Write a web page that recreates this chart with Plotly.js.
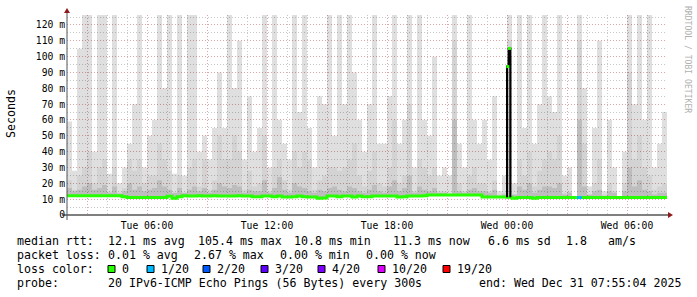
<!DOCTYPE html>
<html><head><meta charset="utf-8">
<script src="https://cdn.plot.ly/plotly-3.0.1.min.js"></script>
<style>html,body{margin:0;padding:0;background:#fff}#chart{width:697px;height:297px}</style>
</head><body><div id="chart"></div>
<script>
// ---- data ----
const startTime = '2025-12-30T02:00:00Z';
const endTime = '2025-12-31T08:00:00Z';
const stepMinutes = 15;

// highest ping of each step (ms)
const maxMs = [
  59, 28, 105, 130, 130, 40, 130, 130, 26, 130, 20, 30, 45, 70, 130, 30, 50, 60, 130, 80, 130, 26, 130, 25,
  130, 130, 40, 50, 35, 55, 90, 55, 130, 80, 110, 35, 75, 40, 55, 130, 30, 130, 60, 45, 35, 130, 65, 130,
  55, 30, 75, 70, 130, 50, 130, 70, 130, 90, 60, 40, 70, 130, 45, 45, 75, 130, 45, 60, 130, 30, 130, 60,
  50, 100, 25, 30, 25, 130, 45, 30, 130, 60, 45, 60, 35, 75, 15, 25, 130, 20, 130, 55, 130, 45, 70, 130,
  75, 65, 130, 25, 30, 12, 130, 80, 18, 55, 110, 15, 60, 30, 12, 40, 130, 70, 130, 60, 130, 30, 45, 65
];
// upper-middle pings (ms)
const midMs = [
  22, 16, 25, 30, 40, 20, 30, 35, 15, 30, 13, 17, 35, 28, 35, 20, 25, 25, 45, 35, 28, 14, 25, 14,
  30, 35, 18, 35, 16, 22, 50, 35, 35, 50, 40, 16, 28, 18, 20, 50, 15, 30, 35, 22, 16, 40, 30, 40,
  35, 16, 22, 25, 30, 30, 28, 30, 35, 45, 25, 18, 28, 40, 20, 18, 30, 60, 20, 25, 70, 15, 35, 30,
  25, 30, 15, 15, 13, 110, 20, 15, 25, 30, 20, 20, 15, 22, 13, 14, 110, 13, 35, 25, 40, 18, 28, 35,
  40, 35, 50, 14, 15, 12, 110, 45, 13, 20, 35, 13, 20, 15, 12, 20, 90, 35, 50, 30, 25, 16, 18, 20
];
// pings close to the median (ms)
const lowMs = [
  17, 15, 16, 18, 20, 16, 17, 19, 14, 18, 14, 15, 20, 16, 18, 15, 16, 17, 22, 18, 16, 14, 17, 14,
  16, 18, 15, 17, 14, 16, 20, 18, 17, 19, 18, 14, 16, 15, 15, 22, 14, 17, 24, 16, 14, 20, 18, 17,
  15, 14, 16, 15, 17, 18, 16, 15, 18, 17, 15, 14, 16, 19, 15, 14, 18, 22, 15, 17, 25, 14, 18, 16,
  15, 17, 14, 14, 13, 60, 15, 14, 16, 17, 15, 15, 14, 16, 12, 13, 100, 13, 18, 16, 20, 14, 16, 18,
  18, 17, 20, 13, 14, 12, 60, 18, 13, 15, 16, 12, 15, 14, 12, 15, 30, 18, 22, 16, 15, 13, 14, 14
];
// median rtt (ms)
const medMs = [
  12.2, 12.2, 12.2, 12.2, 12.2, 12.2, 12.2, 12.2, 12.2, 12.2, 12.2, 11.6, 11.0, 11.0, 11.0, 11.0, 11.0, 11.0, 11.0, 11.0, 11.8, 10.6, 11.6, 12.1,
  12.0, 12.0, 12.1, 12.0, 12.0, 12.1, 12.0, 12.0, 12.0, 12.0, 12.1, 12.0, 12.0, 11.5, 11.6, 12.0, 12.0, 11.5, 12.0, 11.4, 11.4, 11.6, 12.0, 11.6,
  11.4, 11.4, 10.6, 10.7, 12.0, 12.0, 11.5, 12.0, 12.0, 11.4, 12.0, 11.5, 11.5, 12.0, 12.0, 12.0, 12.0, 12.0, 11.4, 11.5, 12.0, 12.0, 12.0, 12.1,
  12.6, 12.6, 12.6, 12.6, 12.6, 12.6, 12.6, 12.6, 12.6, 12.6, 12.6, 11.3, 11.3, 11.3, 11.3, 11.3, 11.2, 10.6, 11.0, 11.0, 11.1, 10.5, 11.0, 11.0,
  11.0, 11.1, 11.0, 11.0, 11.0, 11.1, 11.0, 11.0, 11.0, 11.1, 11.0, 11.0, 11.0, 11.0, 11.0, 11.1, 11.0, 11.0, 11.0, 11.0, 11.1, 11.0, 11.0, 11.1
];
// steps with packet loss (index into the series, lost pings of 20)
const lossIdx = [102];
const lossVal = [1];
// the short median spike just after midnight
const spikeTimes = ['2025-12-31T00:00:00Z', '2025-12-31T00:05:00Z', '2025-12-31T00:10:00Z'];
const spikeMs = [93.7, 105.2];

const yTickVals = [0, 10, 20, 30, 40, 50, 60, 70, 80, 90, 100, 110, 120];
const yTickText = ['0', '10 m', '20 m', '30 m', '40 m', '50 m', '60 m', '70 m', '80 m', '90 m', '100 m', '110 m', '120 m'];
const xTickTimes = ['2025-12-30T06:00:00Z', '2025-12-30T12:00:00Z', '2025-12-30T18:00:00Z', '2025-12-31T00:00:00Z', '2025-12-31T06:00:00Z'];
const xTickText = ['Tue 06:00', 'Tue 12:00', 'Tue 18:00', 'Wed 00:00', 'Wed 06:00'];

const lossColors = ['#26ff00', '#00b8ff', '#0059ff', '#5e00ff', '#7e00ff', '#dd00ff', '#ff0000'];
const lossLabels = ['0', '1/20', '2/20', '3/20', '4/20', '10/20', '19/20'];

const legendRows = [
  {label: 'median rtt:', items: [['12.1 ms avg', 107], ['105.4 ms max', 197], ['10.8 ms min', 293], ['11.3 ms now', 392], ['6.6 ms sd', 487], ['1.8', 565], ['am/s', 607]]},
  {label: 'packet loss:', items: [['0.01 % avg', 107], ['2.67 % max', 193], ['0.00 % min', 279], ['0.00 % now', 365]]},
  {label: 'loss color:', items: []},
  {label: 'probe:', items: [['20 IPv6-ICMP Echo Pings (56 Bytes) every 300s', 107], ['end: Wed Dec 31 07:55:04 2025', 478]]}
];
const lossBoxX = [108, 147, 203, 261, 318, 378, 443];

// ---- geometry helpers (pixel -> paper) ----
const L = 67, R = 667, T = 15, B = 215;
const px = x => (x - L) / (R - L);
const py = y => (B - y) / (B - T);

const t0 = Date.parse(startTime);
const stepMs = stepMinutes * 60000;
const times = maxMs.map((_, i) => t0 + i * stepMs);
const tx = times.concat([t0 + maxMs.length * stepMs]);
const ext = arr => arr.concat([arr[arr.length - 1]]);

const mono = 'DejaVu Sans Mono';
const traces = [];
function band(top, color) {
  traces.push({x: tx, y: ext(medMs), mode: 'lines', line: {width: 0, shape: 'hv'}, hoverinfo: 'skip', showlegend: false});
  traces.push({x: tx, y: ext(top), mode: 'lines', line: {width: 0, shape: 'hv'}, fill: 'tonexty', fillcolor: color, hoverinfo: 'skip', showlegend: false});
}
band(maxMs, 'rgba(0,0,0,0.125)');
band(midMs, 'rgba(0,0,0,0.05)');
band(lowMs, 'rgba(0,0,0,0.10)');

// median line
traces.push({x: tx, y: ext(medMs), mode: 'lines', line: {width: 3, color: lossColors[0], shape: 'hv'}, showlegend: false});
// loss-coloured segments
lossIdx.forEach((idx, k) => {
  traces.push({x: [tx[idx], tx[idx + 1]], y: [medMs[idx], medMs[idx]], mode: 'lines', line: {width: 3, color: lossColors[lossVal[k]]}, showlegend: false});
});
// spike
const sT = spikeTimes.map(s => Date.parse(s));
const spikeIdx = Math.floor((sT[0] - t0) / stepMs);
traces.push({x: [sT[0], sT[0], sT[1], sT[2]], y: [medMs[spikeIdx], spikeMs[0], spikeMs[1], medMs[spikeIdx]], mode: 'lines', line: {width: 2, color: '#000', shape: 'hv'}, showlegend: false});
traces.push({x: [(sT[0] + sT[1]) / 2, (sT[1] + sT[2]) / 2], y: spikeMs, mode: 'markers', marker: {symbol: 'square', size: 3, color: lossColors[0]}, showlegend: false});

// x ticks: red grid every 3 h, labels every 6 h
const xTickMs = xTickTimes.map(s => Date.parse(s));
const tEnd = Date.parse(endTime);
const xvals = [], xtext = [];
for (let t = t0 + 3600000; t < tEnd; t += 3600000) {
  const h = new Date(t).getUTCHours();
  if (h % 3 === 0) {
    xvals.push(t);
    const k = xTickMs.indexOf(t);
    xtext.push(k >= 0 ? xTickText[k] : '');
  }
}

const annotations = [];
const rowY = [240.7, 255, 269, 283.3];
legendRows.forEach((row, r) => {
  annotations.push({xref: 'paper', yref: 'paper', x: px(15), y: py(rowY[r]), xanchor: 'left', yanchor: 'middle', text: row.label, showarrow: false, font: {family: mono, size: 11.6, color: '#000'}});
  row.items.forEach(([txt, x]) => {
    annotations.push({xref: 'paper', yref: 'paper', x: px(x - 1), y: py(rowY[r]), xanchor: 'left', yanchor: 'middle', text: txt, showarrow: false, font: {family: mono, size: 11.6, color: '#000'}});
  });
});
const shapes = [];
lossLabels.forEach((lab, k) => {
  const bx = lossBoxX[k];
  shapes.push({type: 'rect', xref: 'paper', yref: 'paper', x0: px(bx), x1: px(bx + 7), y0: py(265.5), y1: py(272.5), fillcolor: lossColors[k], line: {color: '#000', width: 1}});
  annotations.push({xref: 'paper', yref: 'paper', x: px(bx + 12), y: py(rowY[2]), xanchor: 'left', yanchor: 'middle', text: lab, showarrow: false, font: {family: mono, size: 11.6, color: '#000'}});
});
annotations.push({xref: 'paper', yref: 'paper', x: px(11), y: py(114), xanchor: 'center', yanchor: 'middle', text: 'Seconds', textangle: -90, showarrow: false, font: {family: mono, size: 11.6, color: '#000'}});
annotations.push({xref: 'paper', yref: 'paper', x: px(688), y: py(59), xanchor: 'center', yanchor: 'middle', text: 'RRDTOOL / TOBI OETIKER', textangle: 90, showarrow: false, font: {family: mono, size: 8.1, color: '#b0b0b0'}});

// axes with arrows
shapes.push({type: 'line', xref: 'paper', yref: 'paper', x0: px(62), x1: px(669), y0: 0, y1: 0, line: {color: '#000', width: 1}});
shapes.push({type: 'line', xref: 'paper', yref: 'paper', x0: 0, x1: 0, y0: py(220), y1: py(13), line: {color: '#555', width: 1}});
shapes.push({type: 'path', xref: 'paper', yref: 'paper', path: `M ${px(668)} ${py(212)} L ${px(673)} ${py(215)} L ${px(668)} ${py(218)} Z`, fillcolor: '#8f1a1a', line: {width: 0}});
shapes.push({type: 'path', xref: 'paper', yref: 'paper', path: `M ${px(64)} ${py(13)} L ${px(67)} ${py(8)} L ${px(70)} ${py(13)} Z`, fillcolor: '#8f1a1a', line: {width: 0}});

const layout = {
  width: 697, height: 297,
  margin: {l: L, r: 697 - R, t: T, b: 297 - B},
  paper_bgcolor: '#fff', plot_bgcolor: '#fff',
  showlegend: false,
  xaxis: {
    type: 'date', range: [t0, tEnd], tickmode: 'array', tickvals: xvals, ticktext: xtext,
    showgrid: true, gridcolor: '#dba6a6', griddash: '1px,2px', gridwidth: 1,
    minor: {dtick: 3600000, tick0: t0, showgrid: true, gridcolor: '#c8c8c8', griddash: '1px,2px', gridwidth: 1},
    zeroline: false, showline: false, ticks: '', ticklabelstandoff: 3, tickfont: {family: mono, size: 9.7, color: '#000'}, fixedrange: true
  },
  yaxis: {
    range: [0, 126.3], tickmode: 'array', tickvals: yTickVals, ticktext: yTickText,
    showgrid: true, gridcolor: '#dba6a6', griddash: '1px,2px', gridwidth: 1,
    minor: {dtick: 5, tick0: 0, showgrid: true, gridcolor: '#c8c8c8', griddash: '1px,2px', gridwidth: 1},
    zeroline: false, showline: false, ticks: '', ticklabelstandoff: 1, tickfont: {family: mono, size: 9.7, color: '#000'}, fixedrange: true
  },
  annotations: annotations,
  shapes: shapes
};
Plotly.newPlot('chart', traces, layout, {displayModeBar: false, staticPlot: true});
</script></body></html>
